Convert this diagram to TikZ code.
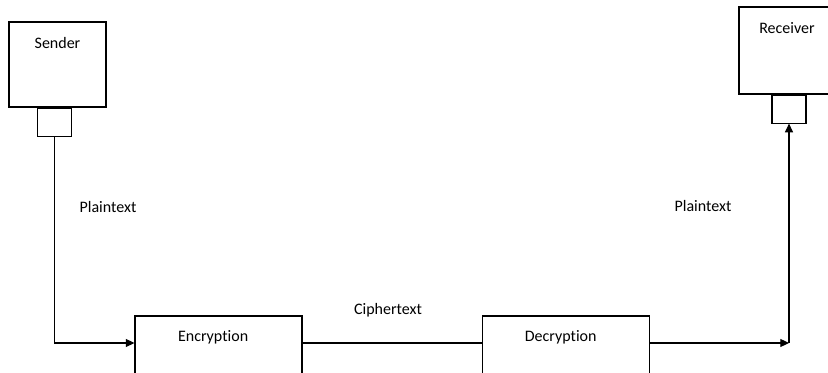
\documentclass[tikz,border=0pt]{standalone}
\usepackage{fontspec}
\setmainfont{Carlito}[Ligatures=NoCommon]
\usetikzlibrary{positioning,arrows.meta}

\begin{document}
\begin{tikzpicture}[
  x=0.75pt, y=-0.75pt,
  font=\fontsize{12}{14}\selectfont,
  line width=0.8pt,
  party/.style={draw, minimum width=72.75pt, minimum height=63.75pt,
                label={[anchor=center, yshift=-16pt]north:#1}},
  port/.style={draw, minimum width=25.5pt, minimum height=21pt},
  stagebox/.style={draw, minimum width=125.25pt, minimum height=52.5pt,
                   label={[anchor=center, yshift=-16.5pt, xshift=-4pt]north:#1}},
  ar/.style={-{Triangle[length=6.5pt, width=6pt]}}]
\useasboundingbox (0,0) rectangle (828,373);
\clip (0,0) rectangle (828,373);
% end points
\node[party=Sender] (sender) at (57.5,64.5) {};
\node[port, below=0pt of sender, xshift=-2pt] (sport) {};
\node[party=Receiver, minimum width=72pt, minimum height=65.25pt] (receiver) at (787,50.5) {};
\node[port, below=0pt of receiver, xshift=1.5pt] (rport) {};
% the two stages
\node[stagebox=Encryption] (enc) at (218.5,351) {};
\node[stagebox=Decryption] (dec) at (566,351) {};
\coordinate (lvl) at (0,343);
\coordinate (turn) at (rport.south |- lvl);
\draw[ar] (sport.south) |- (enc.west |- lvl);
\draw (enc.east |- lvl) -- (dec.west |- lvl);
\draw[ar] (dec.east |- lvl) -- (turn);
\draw[ar] (turn) -- (rport.south);
\node (ptin)   at (108,207) {Plaintext};
\node (cipher) at (388,310) {Ciphertext};
\node (ptout)  at (703,206) {Plaintext};
\end{tikzpicture}
\end{document}
